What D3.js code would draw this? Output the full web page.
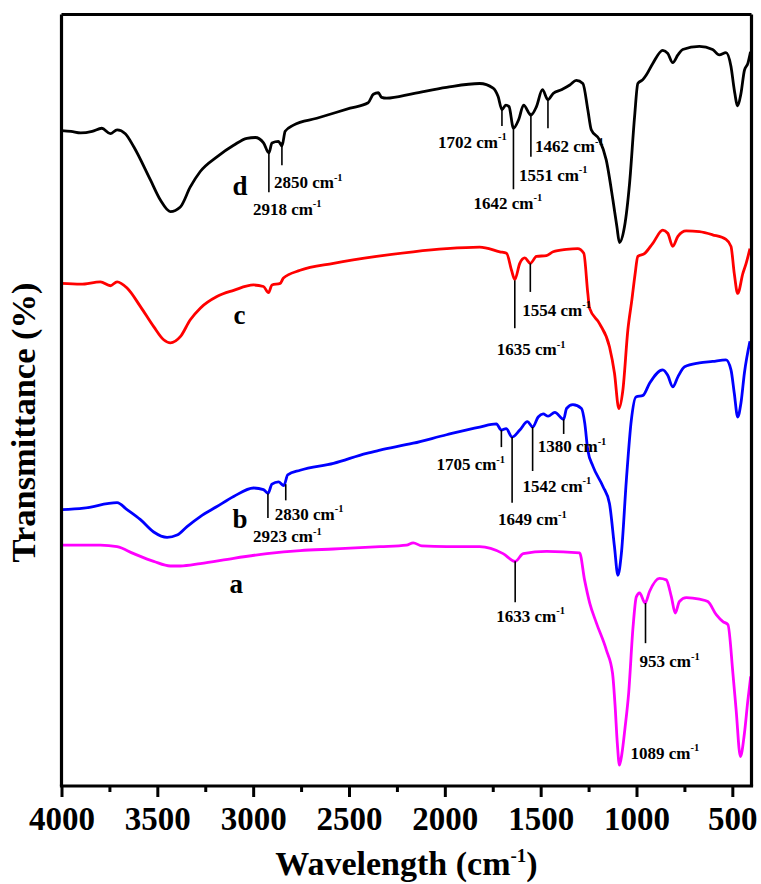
<!DOCTYPE html>
<html>
<head>
<meta charset="utf-8">
<script src="https://cdn.jsdelivr.net/npm/d3@7"></script>
<style>
  html, body { margin: 0; padding: 0; background: #fff; }
  svg { display: block; }
  text { font-family: "Liberation Serif", "Times New Roman", serif; font-weight: bold; fill: #000; }
</style>
</head>
<body>
<svg id="chart" width="761" height="884"></svg>
<script>
// FTIR spectra (a–d), wavenumber in cm-1 against transmittance (%), stacked with offsets.

const majorTicks = [4000, 3500, 3000, 2500, 2000, 1500, 1000, 500];
const minorTicks = [3750, 3250, 2750, 2250, 1750, 1250, 750];

const seriesNames = ["a", "b", "c", "d"];
const seriesColors = ["#ff00ff", "#0000ff", "#ff0000", "#000000"];

// [wavenumber, transmittance]
const spectrumA = [
  [4000,31.2],[3797,31.2],[3710,31.0],[3623,30.1],[3519,29.1],[3432,28.5],[3380,28.5],
  [3276,28.8],[3102,29.5],[2928,30.1],[2755,30.5],[2581,30.7],[2338,31.0],[2200,31.2],
  [2165,31.5],[2120,31.1],[1991,31.0],[1818,31.0],[1696,30.1],[1633,29.1],[1591,30.1],
  [1469,30.4],[1297,30.2],[1271,26.7],[1244,23.7],[1209,21.1],[1157,17.6],[1125,14.6],
  [1112,10.5],[1100,5.5],[1089,2.7],[1076,4.2],[1060,7.5],[1041,12.0],[1018,20.6],
  [1001,24.5],[984,25.0],[955,23.7],[932,25.2],[880,26.9],[845,26.7],[818,24.5],
  [798,22.4],[776,23.9],[740,24.4],[671,24.2],[628,23.9],[584,22.2],[549,21.3],
  [523,20.9],[497,14.6],[480,9.8],[458,3.8],[437,6.8],[419,11.1],[404,14.2]
];

const spectrumB = [
  [4000,35.8],[3884,36.0],[3710,36.7],[3658,35.8],[3588,34.5],[3519,32.9],[3449,32.2],
  [3397,32.5],[3345,33.6],[3276,34.9],[3189,36.2],[3102,37.5],[2998,38.6],[2946,38.4],
  [2923,37.9],[2902,39.1],[2868,39.4],[2840,38.9],[2820,40.3],[2755,40.9],[2581,41.8],
  [2408,43.1],[2338,43.5],[2165,44.4],[1991,45.5],[1818,46.5],[1731,46.9],[1705,46.1],
  [1680,46.3],[1649,45.2],[1609,46.1],[1569,47.2],[1542,46.5],[1513,47.8],[1487,48.2],
  [1461,47.9],[1426,48.4],[1380,47.5],[1365,48.9],[1332,49.4],[1287,48.9],[1270,47.0],
  [1254,43.5],[1227,41.4],[1175,38.8],[1141,36.6],[1115,31.0],[1097,27.3],[1079,30.1],
  [1053,39.6],[1027,47.4],[1003,50.4],[966,50.6],[931,52.2],[863,53.9],[837,53.2],
  [811,51.7],[784,53.0],[749,54.3],[672,54.8],[603,55.0],[533,55.2],[507,53.9],
  [490,50.9],[472,47.8],[455,49.6],[437,53.5],[408,57.6]
];

const spectrumC = [
  [4000,65.1],[3900,65.0],[3797,65.3],[3745,64.8],[3710,65.3],[3658,64.5],[3588,62.1],
  [3519,59.5],[3467,57.8],[3432,57.4],[3380,58.2],[3328,60.4],[3276,61.9],[3189,63.4],
  [3102,64.2],[2998,64.9],[2946,64.7],[2920,63.9],[2902,64.9],[2859,65.1],[2842,65.8],
  [2755,66.8],[2581,67.7],[2356,68.6],[2165,69.2],[1991,69.6],[1818,69.8],[1713,69.2],
  [1678,69.0],[1652,66.8],[1635,65.6],[1609,67.7],[1583,68.4],[1554,67.7],[1522,68.6],
  [1470,68.7],[1435,69.2],[1366,69.5],[1307,69.6],[1275,69.0],[1254,63.8],[1245,61.9],
  [1193,59.9],[1141,56.9],[1115,53.5],[1092,48.9],[1071,51.3],[1045,59.1],[1024,63.0],
  [1008,66.2],[993,68.6],[957,69.0],[915,70.3],[863,72.0],[837,71.6],[811,69.9],
  [784,71.2],[741,71.9],[672,71.8],[603,71.4],[533,70.8],[507,69.9],[490,66.4],
  [472,63.8],[445,66.4],[428,67.7],[408,69.6]
];

const spectrumD = [
  [4000,84.9],[3950,84.8],[3900,84.6],[3840,84.8],[3790,85.2],[3745,84.5],[3710,85.0],
  [3667,84.5],[3623,82.8],[3536,78.5],[3484,75.9],[3432,74.4],[3380,75.0],[3328,77.6],
  [3276,79.6],[3189,81.5],[3102,83.0],[3033,83.9],[2989,84.0],[2946,83.3],[2918,82.0],
  [2902,83.3],[2868,83.5],[2850,82.9],[2833,84.8],[2790,85.6],[2668,86.5],[2494,87.8],
  [2400,88.5],[2373,89.6],[2347,89.8],[2330,89.2],[2304,89.1],[2165,89.7],[1991,90.5],
  [1818,91.0],[1748,90.4],[1722,89.3],[1702,87.6],[1682,88.2],[1665,88.0],[1642,85.2],
  [1615,86.3],[1589,88.2],[1551,86.9],[1522,88.0],[1491,90.2],[1462,88.9],[1435,89.7],
  [1392,90.2],[1348,90.8],[1314,91.4],[1280,91.0],[1254,87.6],[1236,85.0],[1193,83.7],
  [1158,81.1],[1123,75.9],[1102,72.4],[1089,70.4],[1063,72.4],[1036,78.1],[1010,86.7],
  [993,91.0],[967,91.5],[949,92.1],[915,93.6],[863,95.3],[837,94.9],[811,93.7],
  [784,94.7],[759,95.4],[672,95.8],[603,95.4],[568,94.7],[533,95.0],[507,93.2],
  [490,90.2],[472,88.1],[455,89.7],[437,92.7],[419,93.6],[405,95.1]
];

// Assigned band positions (cm-1) per spectrum
const peaksA = [1633, 953, 1089];
const peaksB = [2923, 2830, 1705, 1649, 1542, 1380];
const peaksC = [1635, 1554];
const peaksD = [2918, 2850, 1702, 1642, 1551, 1462];

// Callout layout: [leader top, leader bottom (transmittance), text dx (px), text baseline (transmittance)]
const calloutLayout = {
  "a1633": [29.1, 23.8, -19, 21.3],
  "a953":  [23.7, 18.5, -6, 15.4],
  "a1089": [null, null, 11, 3.5],
  "b2923": [37.9, 34.7, -15, 31.6],
  "b2830": [39.1, 37.0, -11, 34.5],
  "b1705": [46.1, 43.9, -65, 40.9],
  "b1649": [45.2, 36.7, -14, 33.8],
  "b1542": [46.5, 40.8, -10, 38.1],
  "b1380": [47.5, 45.6, -26, 43.2],
  "c1635": [65.5, 59.3, -18, 55.8],
  "c1554": [67.7, 64.0, -8, 60.9],
  "d2918": [82.0, 76.9, -16, 74.0],
  "d2850": [83.4, 80.4, -8, 77.4],
  "d1702": [87.6, 85.5, -64, 82.7],
  "d1642": [85.2, 77.3, -40, 74.8],
  "d1551": [87.2, 81.5, -12, 78.4],
  "d1462": [88.9, 85.2, -13, 82.1]
};

// Series letter anchors: [wavenumber at text start, baseline transmittance]
const letterLayout = { a: [3124, 25.0], b: [3108, 33.4], c: [3103, 59.9], d: [3108, 76.6] };

const spectra = [spectrumA, spectrumB, spectrumC, spectrumD];
const peaks = [peaksA, peaksB, peaksC, peaksD];

const margin = { left: 61.5, top: 14.5, right: 751.5, bottom: 786 };

const svg = d3.select("#chart");

const x = d3.scaleLinear().domain([4000, 400]).range([margin.left, margin.right]);
const y = d3.scaleLinear().domain([0, 100]).range([margin.bottom, 14]);

svg.append("defs").append("clipPath").attr("id", "plot-clip")
  .append("rect")
  .attr("x", margin.left).attr("y", margin.top)
  .attr("width", margin.right - margin.left)
  .attr("height", margin.bottom - margin.top);

const line = d3.line()
  .x(d => x(d[0]))
  .y(d => y(d[1]))
  .curve(d3.curveMonotoneX);

const curves = svg.append("g").attr("clip-path", "url(#plot-clip)");
spectra.forEach((s, i) => {
  curves.append("path")
    .datum(s)
    .attr("d", line)
    .attr("fill", "none")
    .attr("stroke", seriesColors[i])
    .attr("stroke-width", 2.8)
    .attr("stroke-linejoin", "round");
});

// Band callouts
const notes = svg.append("g");
peaks.forEach((list, i) => {
  const name = seriesNames[i];
  list.forEach(wn => {
    const [top, bottom, dx, base] = calloutLayout[name + wn];
    if (top !== null) {
      notes.append("line")
        .attr("x1", x(wn)).attr("x2", x(wn))
        .attr("y1", y(top)).attr("y2", y(bottom))
        .attr("stroke", "#000").attr("stroke-width", 1.6);
    }
    const t = notes.append("text")
      .attr("x", x(wn) + dx)
      .attr("y", y(base))
      .attr("font-size", 17);
    t.append("tspan").text(wn + " cm");
    t.append("tspan").attr("dy", -7.5).attr("font-size", 10.5).text("-1");
  });
});

// Series letters
seriesNames.forEach(name => {
  const [wn, v] = letterLayout[name];
  svg.append("text")
    .attr("x", x(wn)).attr("y", y(v))
    .attr("font-size", 27)
    .text(name);
});

// Frame
const frame = svg.append("g").attr("stroke", "#000").attr("stroke-width", 3.2).attr("fill", "none");
frame.append("line").attr("x1", margin.left).attr("x2", margin.right).attr("y1", margin.top).attr("y2", margin.top);
frame.append("line").attr("x1", margin.right).attr("x2", margin.right).attr("y1", margin.top).attr("y2", margin.bottom);
frame.append("line").attr("x1", margin.left).attr("x2", margin.left).attr("y1", margin.top).attr("y2", margin.bottom);

// X axis with major and minor ticks
const xAxis = svg.append("g")
  .attr("transform", `translate(0,${margin.bottom})`)
  .call(d3.axisBottom(x).tickValues(majorTicks).tickFormat(d3.format("d"))
    .tickSizeInner(11).tickSizeOuter(0).tickPadding(10));
xAxis.select(".domain").attr("stroke", "#000").attr("stroke-width", 3.2)
  .attr("d", `M${margin.left - 1.6},0H${margin.right + 1.6}`);
xAxis.selectAll(".tick line").attr("stroke", "#000").attr("stroke-width", 3);
xAxis.selectAll(".tick text")
  .attr("font-size", 33)
  .style("font-family", "'Liberation Serif','Times New Roman',serif")
  .style("font-weight", "bold");

const minorAxis = svg.append("g")
  .attr("transform", `translate(0,${margin.bottom})`)
  .call(d3.axisBottom(x).tickValues(minorTicks).tickFormat("").tickSizeInner(6).tickSizeOuter(0));
minorAxis.select(".domain").remove();
minorAxis.selectAll(".tick line").attr("stroke", "#000").attr("stroke-width", 3);

// Axis titles
const xTitle = svg.append("text")
  .attr("x", (margin.left + margin.right) / 2)
  .attr("y", 875)
  .attr("text-anchor", "middle")
  .attr("font-size", 34);
xTitle.append("tspan").text("Wavelength (cm");
xTitle.append("tspan").attr("dy", -13).attr("font-size", 19).text("-1");
xTitle.append("tspan").attr("dy", 13).text(")");

svg.append("text")
  .attr("transform", "translate(35,422.5) rotate(-90)")
  .attr("text-anchor", "middle")
  .attr("font-size", 34.5)
  .text("Transmittance (%)");
</script>
</body>
</html>
